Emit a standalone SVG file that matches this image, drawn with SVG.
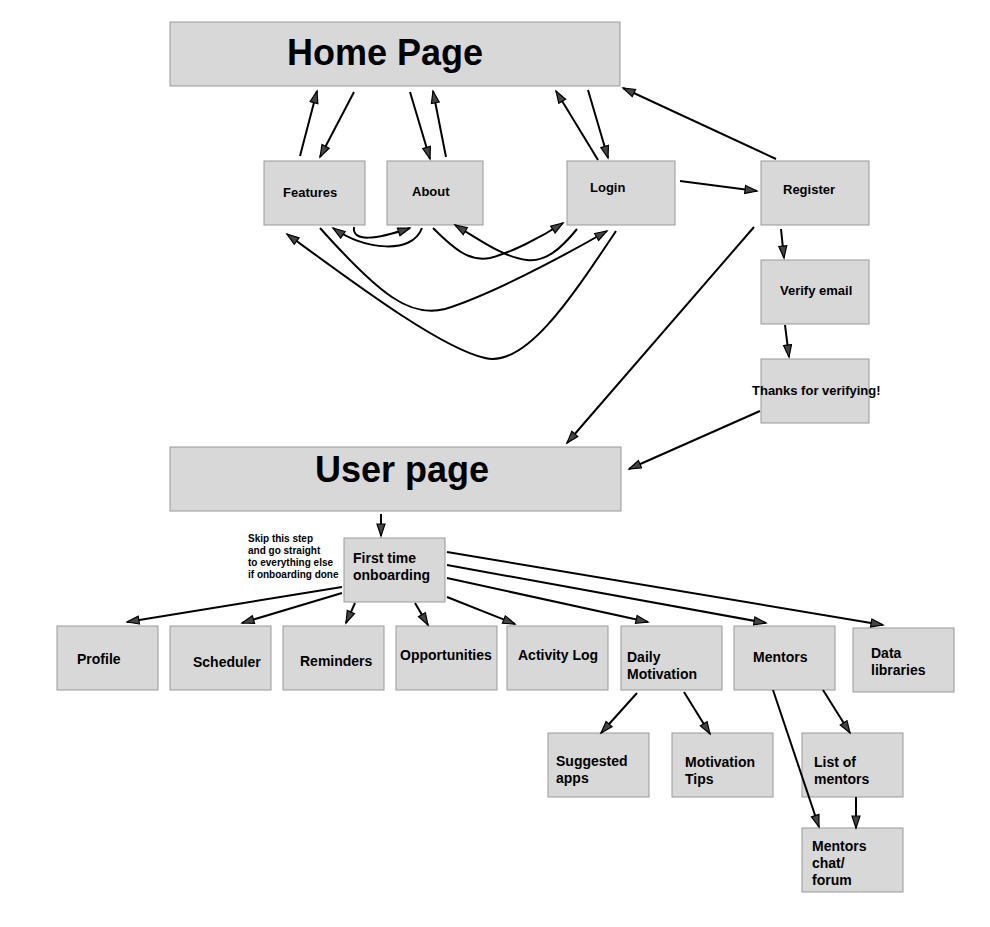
<svg xmlns="http://www.w3.org/2000/svg" width="990" height="927" viewBox="0 0 990 927">
<style>
.box{fill:#d8d8d8;stroke:#999;stroke-width:1}
.t{font-family:"Liberation Sans",Arial,sans-serif;font-weight:bold;fill:#000}
.c{fill:none;stroke:#000;stroke-width:2;marker-end:url(#ah)}
</style>
<defs>
<marker id="ah" markerUnits="userSpaceOnUse" markerWidth="16" markerHeight="12" refX="13" refY="5" orient="auto">
<path d="M1,1 L13,5 L1,9 z" fill="#444" stroke="#000" stroke-width="1.2"/>
</marker>
</defs>
<rect width="990" height="927" fill="#fff"/>
<g id="home"><rect class="box" x="170" y="22" width="450" height="64"/><text class="t" x="385" y="65" font-size="36" text-anchor="middle">Home Page</text></g>
<g id="features"><rect class="box" x="264" y="161" width="101" height="64"/><text class="t" x="283" y="197" font-size="13">Features</text></g>
<g id="about"><rect class="box" x="387" y="161" width="96" height="64"/><text class="t" x="412" y="196" font-size="13">About</text></g>
<g id="login"><rect class="box" x="567" y="161" width="108" height="64"/><text class="t" x="590" y="192" font-size="13">Login</text></g>
<g id="register"><rect class="box" x="761" y="161" width="108" height="64"/><text class="t" x="783" y="194" font-size="13">Register</text></g>
<g id="verify"><rect class="box" x="761" y="260" width="108" height="64"/><text class="t" x="780" y="295" font-size="13">Verify email</text></g>
<g id="thanks"><rect class="box" x="761" y="359" width="108" height="64"/><text class="t" x="752" y="395" font-size="13">Thanks for verifying!</text></g>
<g id="userpage"><rect class="box" x="170" y="447" width="451" height="64"/><text class="t" x="402" y="482" font-size="36" text-anchor="middle">User page</text></g>
<g id="note"><text class="t" font-size="10"><tspan x="248" y="542">Skip this step</tspan><tspan x="248" y="554">and go straight</tspan><tspan x="248" y="566">to everything else</tspan><tspan x="248" y="578">if onboarding done</tspan></text></g>
<g id="onboarding"><rect class="box" x="344" y="538" width="101" height="64"/><text class="t" font-size="14"><tspan x="353" y="563">First time</tspan><tspan x="353" y="580">onboarding</tspan></text></g>
<g id="profile"><rect class="box" x="57" y="626" width="101" height="64"/><text class="t" x="77" y="664" font-size="14">Profile</text></g>
<g id="scheduler"><rect class="box" x="170" y="626" width="101" height="64"/><text class="t" x="193" y="667" font-size="14">Scheduler</text></g>
<g id="reminders"><rect class="box" x="283" y="626" width="101" height="64"/><text class="t" x="300" y="666" font-size="14">Reminders</text></g>
<g id="opportunities"><rect class="box" x="396" y="626" width="101" height="64"/><text class="t" x="400" y="660" font-size="14">Opportunities</text></g>
<g id="activitylog"><rect class="box" x="507" y="626" width="101" height="64"/><text class="t" x="518" y="660" font-size="14">Activity Log</text></g>
<g id="dailymotivation"><rect class="box" x="621" y="626" width="101" height="64"/><text class="t" font-size="14"><tspan x="627" y="662">Daily</tspan><tspan x="627" y="679">Motivation</tspan></text></g>
<g id="mentors"><rect class="box" x="734" y="626" width="101" height="64"/><text class="t" x="753" y="662" font-size="14">Mentors</text></g>
<g id="datalibraries"><rect class="box" x="853" y="628" width="101" height="64"/><text class="t" font-size="14"><tspan x="871" y="658">Data</tspan><tspan x="871" y="675">libraries</tspan></text></g>
<g id="suggestedapps"><rect class="box" x="548" y="733" width="101" height="64"/><text class="t" font-size="14"><tspan x="556" y="766">Suggested</tspan><tspan x="556" y="783">apps</tspan></text></g>
<g id="motivationtips"><rect class="box" x="672" y="733" width="101" height="64"/><text class="t" font-size="14"><tspan x="685" y="767">Motivation</tspan><tspan x="685" y="784">Tips</tspan></text></g>
<g id="listofmentors"><rect class="box" x="802" y="733" width="101" height="64"/><text class="t" font-size="14"><tspan x="814" y="767">List of</tspan><tspan x="814" y="784">mentors</tspan></text></g>
<g id="mentorschat"><rect class="box" x="802" y="828" width="101" height="64"/><text class="t" font-size="14"><tspan x="812" y="851">Mentors</tspan><tspan x="812" y="868">chat/</tspan><tspan x="812" y="885">forum</tspan></text></g>
<g id="connectors">
<path class="c" d="M300,156 L317,91"/>
<path class="c" d="M354,92 L320,157"/>
<path class="c" d="M410,92 L430,159"/>
<path class="c" d="M446,157 L433,91"/>
<path class="c" d="M598,160 L556,91"/>
<path class="c" d="M588,90 L608,158"/>
<path class="c" d="M776,159 L623,88"/>
<path class="c" d="M680,181 L757,191"/>
<path class="c" d="M754,227 L567,443"/>
<path class="c" d="M781,229 L784,258"/>
<path class="c" d="M785,325 L789,357"/>
<path class="c" d="M760,411 L629,469"/>
<path class="c" d="M354,227 C352,242 375,240 410,228"/>
<path class="c" d="M422,228 C412,255 365,250 333,228"/>
<path class="c" d="M433,228 C455,250 470,262 490,258 C510,253 540,238 563,223"/>
<path class="c" d="M577,229 C560,250 545,262 527,260 C505,258 480,240 455,225"/>
<path class="c" d="M320,228 C380,295 410,318 445,309 C490,295 560,258 607,231"/>
<path class="c" d="M616,231 C570,300 525,368 485,358 C440,348 350,280 287,234"/>
<path class="c" d="M381,514 L381,536"/>
<path class="c" d="M342,587 L127,622"/>
<path class="c" d="M342,593 L242,623"/>
<path class="c" d="M355,603 L346,623"/>
<path class="c" d="M415,603 L428,625"/>
<path class="c" d="M447,597 L515,624"/>
<path class="c" d="M447,578 L648,622"/>
<path class="c" d="M447,565 L766,623"/>
<path class="c" d="M447,552 L883,625"/>
<path class="c" d="M637,693 L601,733"/>
<path class="c" d="M684,692 L710,734"/>
<path class="c" d="M823,690 L850,733"/>
<path class="c" d="M773,690 L819,827"/>
<path class="c" d="M856,797 L856,828"/>
</g>
</svg>
